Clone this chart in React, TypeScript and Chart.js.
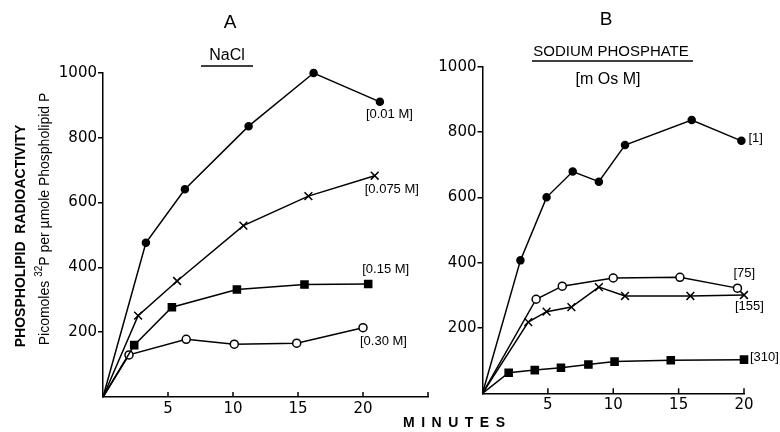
import { useEffect, useRef } from 'react';
import { Chart, registerables } from 'chart.js';
Chart.register(...registerables);

const FONT = '"Liberation Sans", Arial, sans-serif';
const TICK_FONT = '"DejaVu Sans", "Liberation Sans", sans-serif';

// ---------- Panel A: NaCl ----------
const naclMin001 = [0, 3.3, 6.3, 11.2, 16.2, 21.3];
const naclVal001 = [0, 476, 641, 836, 1000, 911];
const naclMin0075 = [0, 2.7, 5.7, 10.8, 15.8, 20.9];
const naclVal0075 = [0, 251, 358, 529, 620, 683];
const naclMin015 = [0, 2.4, 5.3, 10.3, 15.5, 20.4];
const naclVal015 = [0, 160, 277, 332, 347, 349];
const naclMin030 = [0, 2.0, 6.4, 10.1, 14.9, 20.0];
const naclVal030 = [0, 130, 178, 163, 166, 214];
const naclLabels = ['[0.01 M]', '[0.075 M]', '[0.15 M]', '[0.30 M]'];

// ---------- Panel B: Sodium phosphate ----------
const phosMin1 = [0, 2.9, 4.9, 6.9, 8.9, 10.9, 16.0, 19.8];
const phosVal1 = [0, 407, 600, 679, 648, 760, 837, 773];
const phosMin75 = [0, 4.1, 6.1, 10.0, 15.1, 19.5];
const phosVal75 = [0, 288, 328, 353, 355, 322];
const phosMin155 = [0, 3.5, 4.9, 6.8, 8.9, 10.9, 15.9, 20.0];
const phosVal155 = [0, 218, 250, 264, 325, 298, 298, 301];
const phosMin310 = [0, 2.0, 4.0, 6.0, 8.1, 10.1, 14.4, 20.0];
const phosVal310 = [0, 63, 71, 78, 88, 97, 101, 103];
const phosLabels = ['[1]', '[75]', '[155]', '[310]'];

const xTicksA = [5, 10, 15, 20, 25];
const xTicksB = [5, 10, 15, 20];

const pts = (xs: number[], ys: number[]) => xs.map((x, i) => ({ x, y: ys[i] }));

function ds(data: any[], style: string, radius: number, fill: string) {
  return {
    data,
    borderColor: '#000',
    borderWidth: 1.5,
    tension: 0,
    clip: false as any,
    pointStyle: style,
    pointRadius: (c: any) => (c.dataIndex === 0 ? 0 : radius),
    pointBackgroundColor: fill,
    pointBorderColor: '#000',
    pointBorderWidth: 1.5,
  };
}

function scales(xMax: number, yWidth: number, xHeight: number) {
  return {
    x: {
      type: 'linear',
      min: 0,
      max: xMax,
      afterFit: (s: any) => { s.height = xHeight; },
      ticks: {
        stepSize: 5,
        color: '#000',
        padding: 3,
        font: { family: TICK_FONT, size: 15 },
        callback: (v: any) => (v === 0 || v === 25 ? '' : String(v)),
      },
      grid: { display: false, drawTicks: false },
      border: { display: true, color: '#000', width: 1.5 },
    },
    y: {
      min: 0,
      max: 1000,
      afterFit: (s: any) => { s.width = yWidth; },
      ticks: {
        stepSize: 200,
        color: '#000',
        padding: 1,
        font: { family: TICK_FONT, size: 15 },
        callback: (v: any) => (v === 0 ? '' : String(v)),
      },
      grid: {
        display: true,
        drawOnChartArea: false,
        drawTicks: true,
        tickLength: 5,
        lineWidth: 1.5,
        color: (c: any) => (c.tick && c.tick.value === 0 ? 'rgba(0,0,0,0)' : '#000'),
      },
      border: { display: true, color: '#000', width: 1.5 },
    },
  };
}

function drawInwardTicks(chart: any, ticks: number[]) {
  const ctx = chart.ctx;
  const xs = chart.scales.x;
  const bottom = chart.chartArea.bottom;
  ctx.save();
  ctx.strokeStyle = '#000';
  ctx.lineWidth = 1.5;
  ticks.forEach((t) => {
    const px = xs.getPixelForValue(t);
    ctx.beginPath();
    ctx.moveTo(px, bottom);
    ctx.lineTo(px, bottom - 5);
    ctx.stroke();
  });
  ctx.restore();
}

function drawSeriesLabels(chart: any, labels: string[], offsets: number[][]) {
  const ctx = chart.ctx;
  ctx.save();
  ctx.fillStyle = '#000';
  ctx.font = `13px ${FONT}`;
  ctx.textAlign = 'left';
  ctx.textBaseline = 'middle';
  labels.forEach((lab, i) => {
    const meta = chart.getDatasetMeta(i);
    const last = meta.data[meta.data.length - 1];
    ctx.fillText(lab, last.x + offsets[i][0], last.y + offsets[i][1]);
  });
  ctx.restore();
}

const panelAPlugin = {
  id: 'panelA',
  afterDraw(chart: any) {
    drawInwardTicks(chart, xTicksA);
    drawSeriesLabels(chart, naclLabels, [[-14, 13], [-10, 14], [-6, -15], [-3, 14]]);
    const ctx = chart.ctx;
    ctx.save();
    ctx.fillStyle = '#000';
    ctx.strokeStyle = '#000';
    ctx.textAlign = 'center';
    ctx.textBaseline = 'middle';
    ctx.font = `19px ${FONT}`;
    ctx.fillText('A', 230, 23);
    ctx.font = `16px ${FONT}`;
    ctx.fillText('NaCl', 227, 56);
    ctx.lineWidth = 1.5;
    ctx.beginPath();
    ctx.moveTo(201, 66);
    ctx.lineTo(253, 66);
    ctx.stroke();
    // y-axis titles
    ctx.save();
    ctx.translate(21, 236);
    ctx.rotate(-Math.PI / 2);
    ctx.font = `bold 14px ${FONT}`;
    ctx.fillText('PHOSPHOLIPID  RADIOACTIVITY', 0, 0);
    ctx.restore();
    ctx.save();
    ctx.translate(45, 219);
    ctx.rotate(-Math.PI / 2);
    ctx.textAlign = 'left';
    const main = `14px ${FONT}`;
    const sup = `10px ${FONT}`;
    const p1 = 'Picomoles ';
    const p2 = '32';
    const p3 = 'P per µmole Phospholipid P';
    ctx.font = main;
    const w1 = ctx.measureText(p1).width;
    const w3 = ctx.measureText(p3).width;
    ctx.font = sup;
    const w2 = ctx.measureText(p2).width;
    let x0 = -(w1 + w2 + w3) / 2;
    ctx.font = main;
    ctx.fillText(p1, x0, 0);
    x0 += w1;
    ctx.font = sup;
    ctx.fillText(p2, x0, -6);
    x0 += w2;
    ctx.font = main;
    ctx.fillText(p3, x0, 0);
    ctx.restore();
    // x-axis title
    ctx.font = `bold 14px ${FONT}`;
    ctx.textAlign = 'left';
    (ctx as any).letterSpacing = '6.5px';
    ctx.fillText('MINUTES', 403, 423);
    (ctx as any).letterSpacing = '0px';
    ctx.restore();
  },
};

const panelBPlugin = {
  id: 'panelB',
  afterDraw(chart: any) {
    drawInwardTicks(chart, xTicksB);
    drawSeriesLabels(chart, phosLabels, [[7, -2], [-4, -15], [-9, 11], [6, -2]]);
    const ctx = chart.ctx;
    ctx.save();
    ctx.fillStyle = '#000';
    ctx.strokeStyle = '#000';
    ctx.textAlign = 'center';
    ctx.textBaseline = 'middle';
    ctx.font = `19px ${FONT}`;
    ctx.fillText('B', 606, 20);
    ctx.font = `15px ${FONT}`;
    ctx.fillText('SODIUM PHOSPHATE', 611, 52);
    ctx.lineWidth = 1.5;
    ctx.beginPath();
    ctx.moveTo(532, 61);
    ctx.lineTo(693, 61);
    ctx.stroke();
    ctx.font = `16px ${FONT}`;
    ctx.fillText('[m Os M]', 608, 80);
    ctx.restore();
  },
};

export default function App() {
  const refA = useRef<HTMLCanvasElement>(null);
  const refB = useRef<HTMLCanvasElement>(null);

  useEffect(() => {
    const chartA = new Chart(refA.current as HTMLCanvasElement, {
      type: 'line',
      data: {
        datasets: [
          ds(pts(naclMin001, naclVal001), 'circle', 3.5, '#000'),
          ds(pts(naclMin0075, naclVal0075), 'crossRot', 5.5, '#000'),
          ds(pts(naclMin015, naclVal015), 'rect', 5, '#000'),
          ds(pts(naclMin030, naclVal030), 'circle', 4, '#fff'),
        ] as any,
      },
      options: {
        responsive: false,
        animation: false,
        layout: { padding: { left: 0, top: 73, right: 780 - 428, bottom: 0 } },
        plugins: { legend: { display: false }, tooltip: { enabled: false } },
        scales: scales(25, 103, 432 - 397) as any,
      },
      plugins: [panelAPlugin],
    });
    const chartB = new Chart(refB.current as HTMLCanvasElement, {
      type: 'line',
      data: {
        datasets: [
          ds(pts(phosMin1, phosVal1), 'circle', 3.5, '#000'),
          ds(pts(phosMin75, phosVal75), 'circle', 4, '#fff'),
          ds(pts(phosMin155, phosVal155), 'crossRot', 5.5, '#000'),
          ds(pts(phosMin310, phosVal310), 'rect', 5, '#000'),
        ] as any,
      },
      options: {
        responsive: false,
        animation: false,
        layout: { padding: { left: 0, top: 66.7, right: 780 - 744, bottom: 0 } },
        plugins: { legend: { display: false }, tooltip: { enabled: false } },
        scales: scales(20, 482.5, 432 - 393.3) as any,
      },
      plugins: [panelBPlugin],
    });
    return () => {
      chartA.destroy();
      chartB.destroy();
    };
  }, []);

  const cstyle: any = { position: 'absolute', left: 0, top: 0, width: 780, height: 432 };
  return (
    <div style={{ position: 'absolute', left: 0, top: 0, width: 780, height: 432, background: '#fff' }}>
      <canvas ref={refA} width={780} height={432} style={cstyle} />
      <canvas ref={refB} width={780} height={432} style={cstyle} />
    </div>
  );
}
